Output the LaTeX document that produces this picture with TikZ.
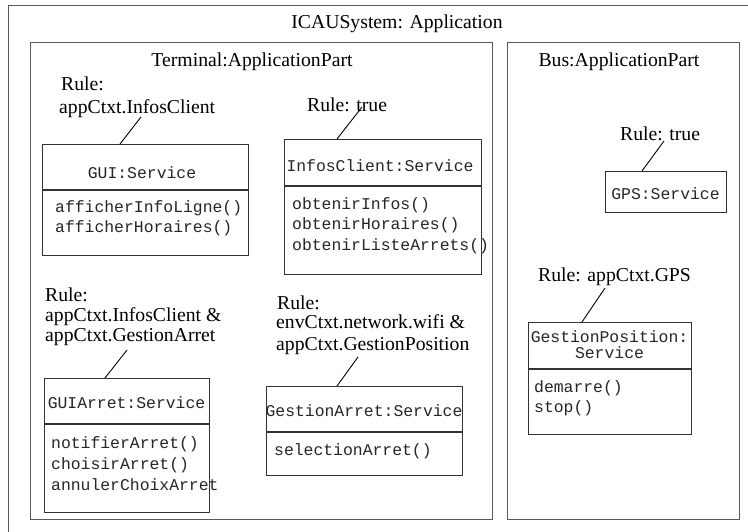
\documentclass[tikz,border=0pt]{standalone}
\usepackage{fontspec}
\setmainfont{Liberation Serif}
\newfontfamily\codefont{Liberation Mono}

\tikzset{
  lbl/.style={font=\fontsize{19.7}{22}\selectfont, inner sep=0pt, anchor=base west},
  ttl/.style={lbl, anchor=base},
  code/.style={font=\codefont\fontsize{16.4}{18}\selectfont, text=black!85, inner sep=0pt, anchor=base west},
  codec/.style={code, anchor=base},
  frame/.style={draw=black!65, line width=1.3pt, anchor=north west, inner sep=0pt},
  svc/.style={draw=black!80, line width=1.1pt, anchor=north west, inner sep=0pt},
  sep/.style={draw=black!80, line width=1.1pt},
  tie/.style={draw=black, line width=0.9pt},
}

\begin{document}
\begin{tikzpicture}[x=1pt, y=-1pt]
\useasboundingbox (0,0) rectangle (748,531);
\fill[white] (0,0) rectangle (748,531);

% application and its two parts
\node[frame, minimum width=783pt, minimum height=540pt] (app) at (7.5,5) {};
\node[ttl] (appT) at (397,28) {ICAUSystem: Application};

\node[frame, minimum width=462pt, minimum height=477pt] (term) at (30,42) {};
\node[ttl] (termT) at (252,66) {Terminal:ApplicationPart};

\node[frame, minimum width=232pt, minimum height=477pt] (bus) at (507,42) {};
\node[ttl] (busT) at (619,66) {Bus:ApplicationPart};

% ---------- Terminal part ----------
% GUI service
\node[lbl] (guiR1) at (61,90) {Rule:};
\node[lbl] (guiR2) at (59,113) {appCtxt.InfosClient};
\node[svc, minimum width=206pt, minimum height=111pt] (gui) at (42,144) {};
\draw[sep] (gui.west |- 0,190) -- (gui.east |- 0,190);
\node[codec] (guiN) at (142,178) {GUI:Service};
\node[code] (guiM1) at (55,212) {afficherInfoLigne()};
\node[code] (guiM2) at (55,232) {afficherHoraires()};
\coordinate (guiA) at (141,117);
\coordinate (guiB) at (120,144);
\draw[tie] (guiA) -- (guiB);

% InfosClient service
\node[lbl] (infR) at (307,111) {Rule: true};
\node[svc, minimum width=197pt, minimum height=135pt] (info) at (284,139) {};
\draw[sep] (info.west |- 0,186) -- (info.east |- 0,186);
\node[codec] (infN) at (380,171) {InfosClient:Service};
\node[code] (infM1) at (292,209) {obtenirInfos()};
\node[code] (infM2) at (292,229) {obtenirHoraires()};
\node[code] (infM3) at (292,250) {obtenirListeArrets()};
\coordinate (infA) at (362,107);
\coordinate (infB) at (337,139);
\draw[tie] (infA) -- (infB);

% GUIArret service
\node[lbl] (guaR1) at (45,301) {Rule:};
\node[lbl] (guaR2) at (45,321) {appCtxt.InfosClient \&};
\node[lbl] (guaR3) at (45,341) {appCtxt.GestionArret};
\node[svc, minimum width=165pt, minimum height=134pt] (gua) at (44,378) {};
\draw[sep] (gua.west |- 0,424) -- (gua.east |- 0,424);
\node[codec] (guaN) at (126.5,408) {GUIArret:Service};
\node[code] (guaM1) at (51,448) {notifierArret()};
\node[code] (guaM2) at (51,469) {choisirArret()};
\node[code] (guaM3) at (51,490) {annulerChoixArret};
\coordinate (guaA) at (127,350);
\coordinate (guaB) at (105,378);
\draw[tie] (guaA) -- (guaB);

% GestionArret service
\node[lbl] (garR1) at (277,309) {Rule:};
\node[lbl] (garR2) at (276,328) {envCtxt.network.wifi \&};
\node[lbl] (garR3) at (276,350) {appCtxt.GestionPosition};
\node[svc, minimum width=196pt, minimum height=89pt] (gar) at (266,386) {};
\draw[sep] (gar.west |- 0,432) -- (gar.east |- 0,432);
\node[codec] (garN) at (364,416) {GestionArret:Service};
\node[code] (garM1) at (274,455) {selectionArret()};
\coordinate (garA) at (358,357);
\coordinate (garB) at (337,386);
\draw[tie] (garA) -- (garB);

% ---------- Bus part ----------
% GPS service
\node[lbl] (gpsR) at (620,140) {Rule: true};
\node[svc, minimum width=121pt, minimum height=41pt] (gps) at (605,171) {};
\node[codec] (gpsN) at (665.5,199) {GPS:Service};
\coordinate (gpsA) at (664,141);
\coordinate (gpsB) at (642,171);
\draw[tie] (gpsA) -- (gpsB);

% GestionPosition service
\node[lbl] (gpoR) at (538,281) {Rule: appCtxt.GPS};
\node[svc, minimum width=163pt, minimum height=112pt] (gpo) at (528,322) {};
\draw[sep] (gpo.west |- 0,369) -- (gpo.east |- 0,369);
\node[codec] (gpoN1) at (609.5,342) {GestionPosition:};
\node[codec] (gpoN2) at (609.5,358) {Service};
\node[code] (gpoM1) at (534,392) {demarre()};
\node[code] (gpoM2) at (534,412) {stop()};
\coordinate (gpoA) at (605,288);
\coordinate (gpoB) at (582,322);
\draw[tie] (gpoA) -- (gpoB);
\end{tikzpicture}
\end{document}
